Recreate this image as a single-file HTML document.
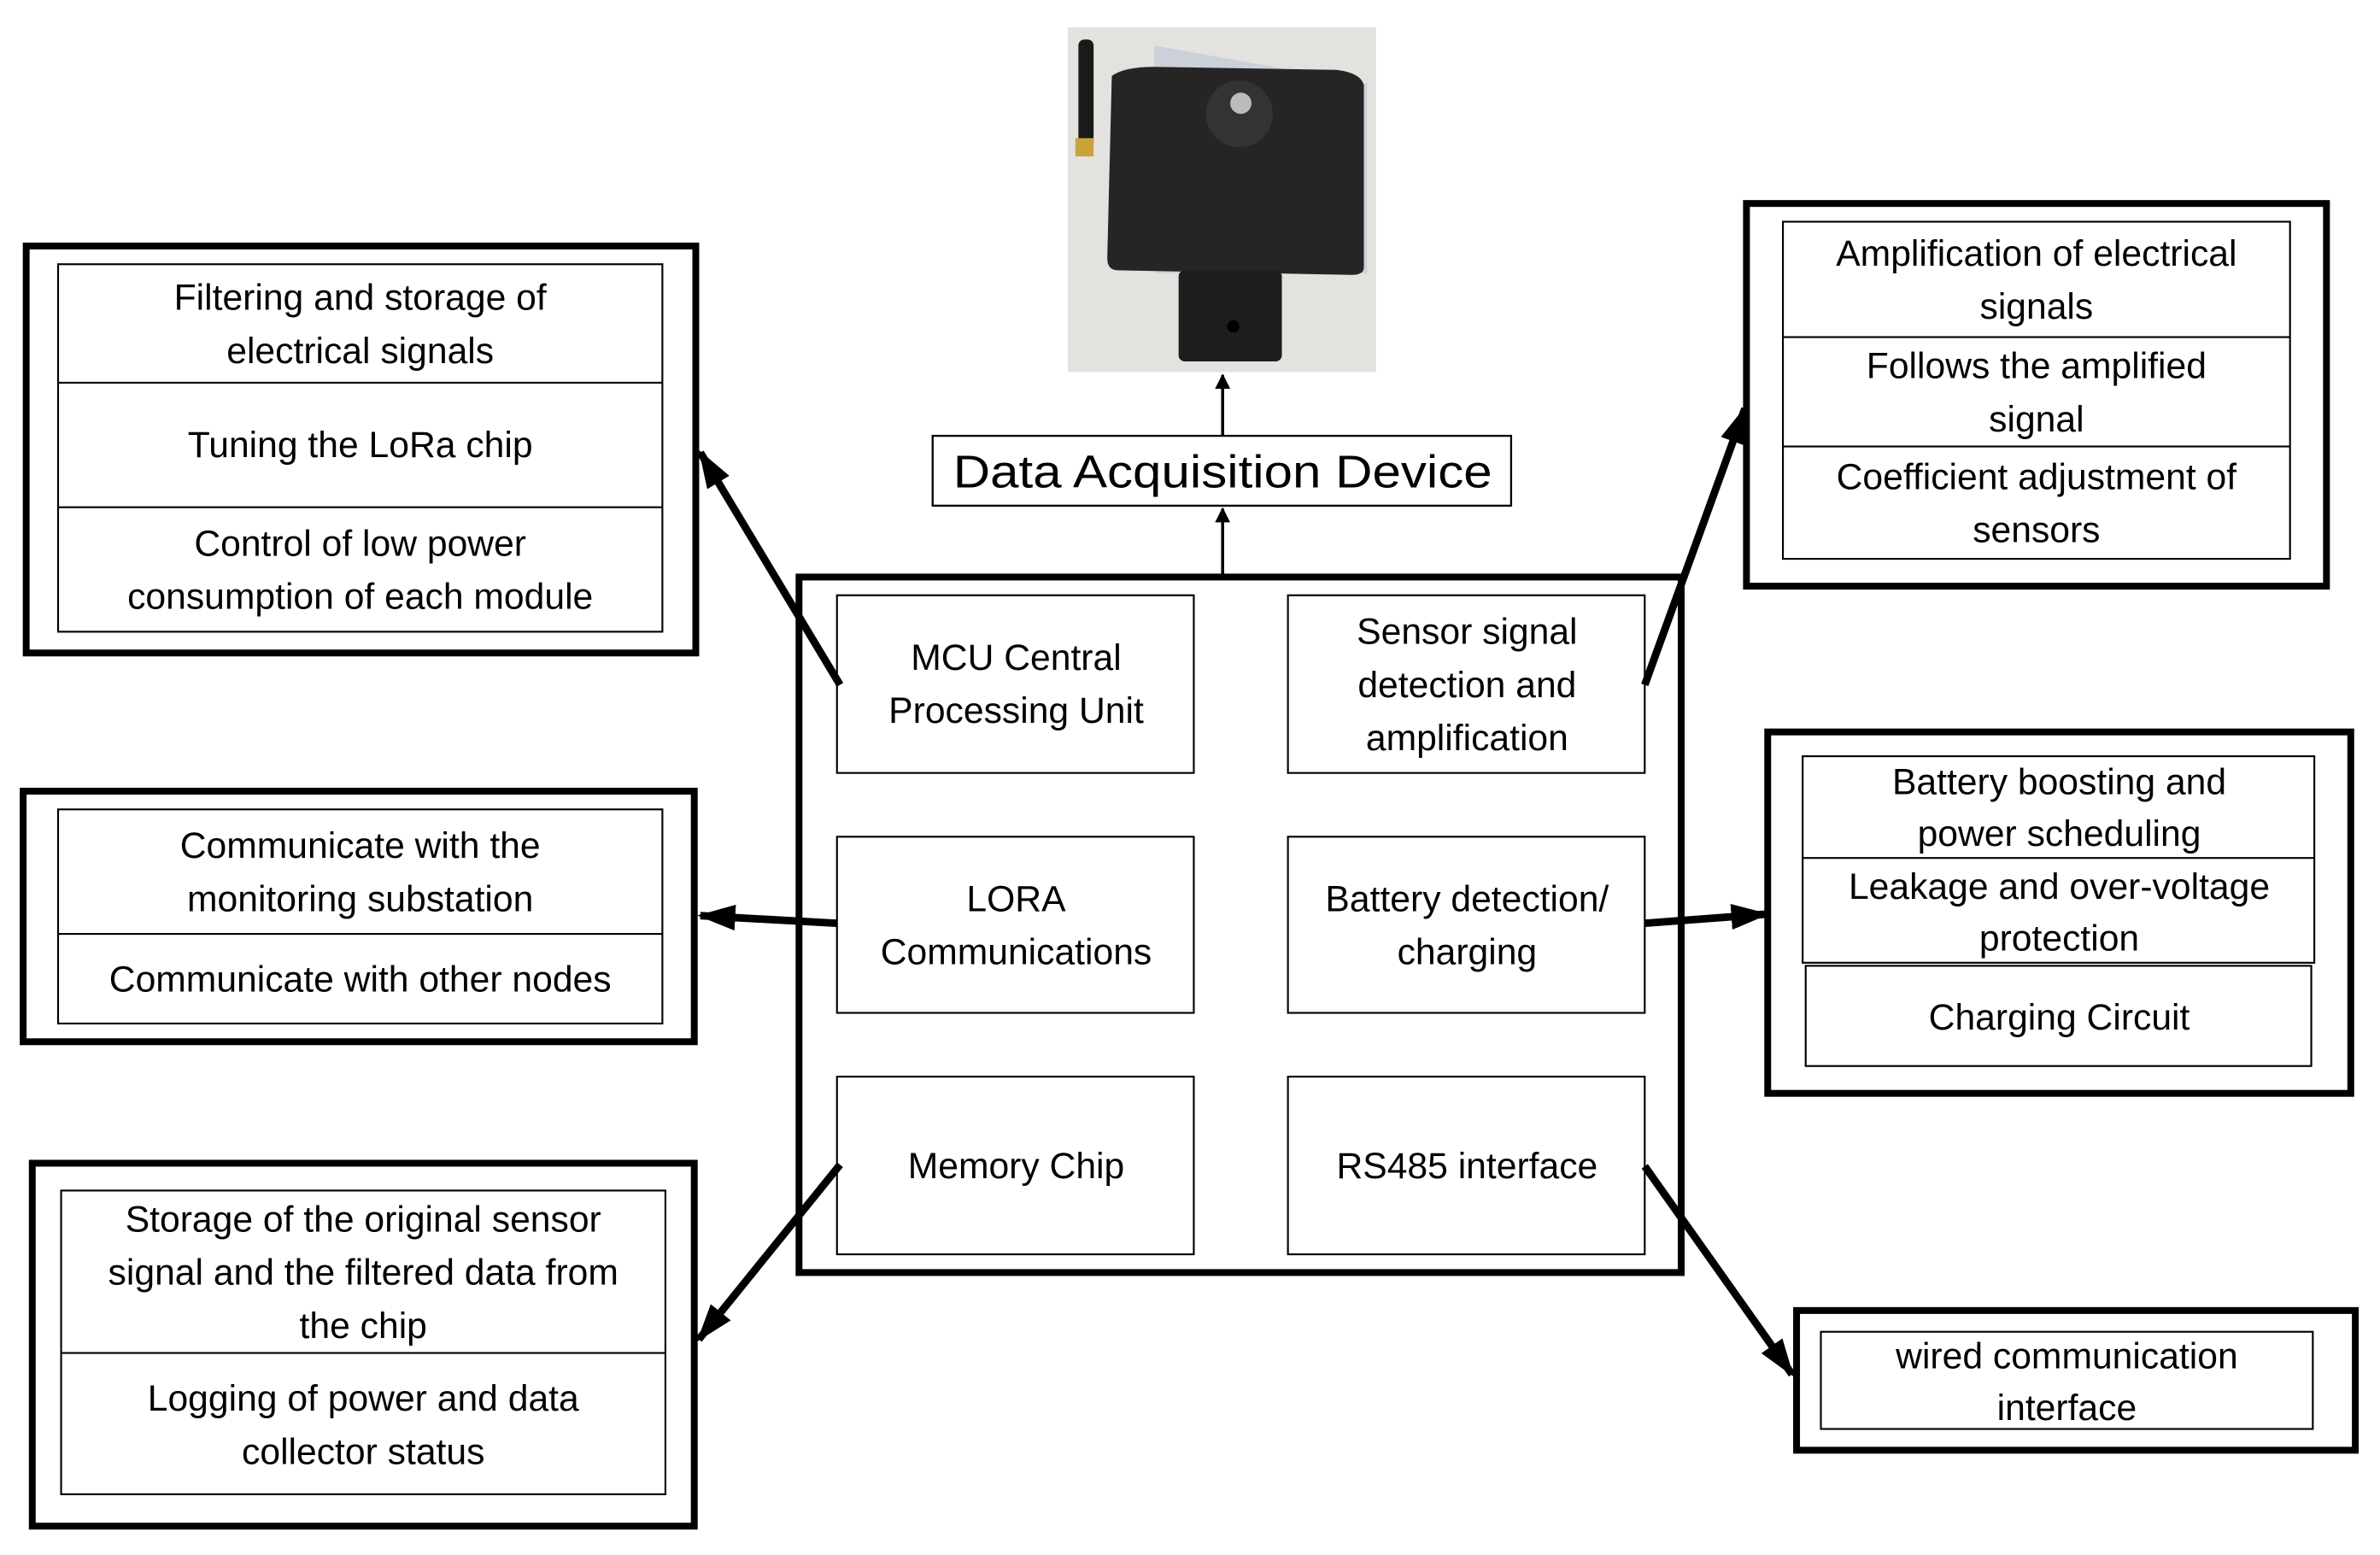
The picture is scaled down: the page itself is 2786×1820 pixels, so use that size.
<!DOCTYPE html>
<html><head><meta charset="utf-8"><style>
html,body{margin:0;padding:0;background:#fff;}
svg{display:block;}
text{font-family:"Liberation Sans",sans-serif;font-size:24px;fill:#000;text-anchor:middle;}
</style></head><body>
<svg width="2786" height="1820" viewBox="0 0 1567 1024" xmlns="http://www.w3.org/2000/svg">
<defs>
<marker id="a" markerWidth="5" markerHeight="3.4" refX="4.6" refY="1.7" orient="auto" markerUnits="strokeWidth"><path d="M0,0 L5,1.7 L0,3.4 z" fill="#000"/></marker>
<marker id="b" markerWidth="10" markerHeight="10" refX="9" refY="5" orient="auto" markerUnits="userSpaceOnUse"><path d="M0,0 L10,5 L0,10 z" fill="#000"/></marker>
</defs>
<rect width="1567" height="1024" fill="#fff"/>
<!-- photo -->
<rect x="703" y="18" width="203" height="227" fill="#e4e2df"/>
<path d="M760,30 L900,55 L900,180 L760,180 z" fill="#b9c6d4" opacity="0.6"/>
<rect x="710" y="26" width="10" height="72" rx="4" fill="#1a1a1a"/>
<rect x="708" y="91" width="12" height="12" fill="#c9a33a"/>
<path d="M732,50 Q740,44 760,44 L880,46 Q896,48 898,56 L898,176 Q898,181 890,181 L736,178 Q729,178 729,170 z" fill="#252525"/>
<rect x="776" y="178" width="68" height="60" rx="4" fill="#1e1e1e"/>
<circle cx="812" cy="215" r="4" fill="#000"/>
<circle cx="816" cy="75" r="22" fill="#333"/>
<circle cx="817" cy="68" r="7" fill="#bbb"/>
<!-- data acquisition device -->
<line x1="805" y1="290" x2="805" y2="247" stroke="#000" stroke-width="2" marker-end="url(#b)"/>
<rect x="614" y="287" width="381" height="46" fill="#fff" stroke="#000" stroke-width="1.3"/>
<text x="805" y="321" style="font-size:30px" textLength="355" lengthAdjust="spacingAndGlyphs">Data Acquisition Device</text>
<line x1="805" y1="380" x2="805" y2="335" stroke="#000" stroke-width="2" marker-end="url(#b)"/>
<!-- main box -->
<rect x="526" y="380" width="581" height="458" fill="none" stroke="#000" stroke-width="4.5"/>
<g fill="#fff" stroke="#000" stroke-width="1.2">
<rect x="551" y="392" width="235" height="117"/><rect x="848" y="392" width="235" height="117"/>
<rect x="551" y="551" width="235" height="116"/><rect x="848" y="551" width="235" height="116"/>
<rect x="551" y="709" width="235" height="117"/><rect x="848" y="709" width="235" height="117"/>
</g>
<text x="669" y="441">MCU Central</text><text x="669" y="476">Processing Unit</text>
<text x="966" y="424">Sensor signal</text><text x="966" y="459">detection and</text><text x="966" y="494">amplification</text>
<text x="669" y="600">LORA</text><text x="669" y="635">Communications</text>
<text x="966" y="600">Battery detection/</text><text x="966" y="635">charging</text>
<text x="669" y="776">Memory Chip</text><text x="966" y="776">RS485 interface</text>
<!-- left box 1 -->
<rect x="17" y="162" width="441" height="268" fill="none" stroke="#000" stroke-width="4.5"/>
<rect x="38" y="174" width="398" height="242" fill="none" stroke="#000" stroke-width="1.2"/>
<line x1="38" y1="252" x2="436" y2="252" stroke="#000" stroke-width="1.2"/>
<line x1="38" y1="334" x2="436" y2="334" stroke="#000" stroke-width="1.2"/>
<text x="237" y="204">Filtering and storage of</text><text x="237" y="239">electrical signals</text>
<text x="237" y="301">Tuning the LoRa chip</text>
<text x="237" y="366">Control of low power</text><text x="237" y="401">consumption of each module</text>
<!-- left box 2 -->
<rect x="15" y="521" width="442" height="165" fill="none" stroke="#000" stroke-width="4.5"/>
<rect x="38" y="533" width="398" height="141" fill="none" stroke="#000" stroke-width="1.2"/>
<line x1="38" y1="615" x2="436" y2="615" stroke="#000" stroke-width="1.2"/>
<text x="237" y="565">Communicate with the</text><text x="237" y="600">monitoring substation</text>
<text x="237" y="653">Communicate with other nodes</text>
<!-- left box 3 -->
<rect x="21" y="766" width="436" height="239" fill="none" stroke="#000" stroke-width="4.5"/>
<rect x="40" y="784" width="398" height="200" fill="none" stroke="#000" stroke-width="1.2"/>
<line x1="40" y1="891" x2="438" y2="891" stroke="#000" stroke-width="1.2"/>
<text x="239" y="811">Storage of the original sensor</text><text x="239" y="846">signal and the filtered data from</text><text x="239" y="881">the chip</text>
<text x="239" y="929">Logging of power and data</text><text x="239" y="964">collector status</text>
<!-- right box 1 -->
<rect x="1150" y="134" width="382" height="252" fill="none" stroke="#000" stroke-width="4.5"/>
<rect x="1174" y="146" width="334" height="222" fill="none" stroke="#000" stroke-width="1.2"/>
<line x1="1174" y1="222" x2="1508" y2="222" stroke="#000" stroke-width="1.2"/>
<line x1="1174" y1="294" x2="1508" y2="294" stroke="#000" stroke-width="1.2"/>
<text x="1341" y="175">Amplification of electrical</text><text x="1341" y="210">signals</text>
<text x="1341" y="249">Follows the amplified</text><text x="1341" y="284">signal</text>
<text x="1341" y="322">Coefficient adjustment of</text><text x="1341" y="357">sensors</text>
<!-- right box 2 -->
<rect x="1164" y="482" width="384" height="238" fill="none" stroke="#000" stroke-width="4.5"/>
<rect x="1187" y="498" width="337" height="136" fill="none" stroke="#000" stroke-width="1.2"/>
<line x1="1187" y1="565" x2="1524" y2="565" stroke="#000" stroke-width="1.2"/>
<rect x="1189" y="636" width="333" height="66" fill="none" stroke="#000" stroke-width="1.2"/>
<text x="1356" y="523">Battery boosting and</text><text x="1356" y="557">power scheduling</text>
<text x="1356" y="592">Leakage and over-voltage</text><text x="1356" y="626">protection</text>
<text x="1356" y="678">Charging Circuit</text>
<!-- right box 3 -->
<rect x="1183" y="863" width="368" height="92" fill="none" stroke="#000" stroke-width="4.5"/>
<rect x="1199" y="877" width="324" height="64" fill="none" stroke="#000" stroke-width="1.2"/>
<text x="1361" y="901">wired communication</text><text x="1361" y="935">interface</text>
<!-- thick arrows -->
<g stroke="#000" stroke-width="5" fill="none">
<line x1="553" y1="451" x2="461" y2="298" marker-end="url(#a)"/>
<line x1="551" y1="608" x2="461" y2="603" marker-end="url(#a)"/>
<line x1="553" y1="767" x2="460" y2="882" marker-end="url(#a)"/>
<line x1="1083" y1="451" x2="1149" y2="269" marker-end="url(#a)"/>
<line x1="1083" y1="608" x2="1163" y2="602" marker-end="url(#a)"/>
<line x1="1083" y1="768" x2="1180" y2="905" marker-end="url(#a)"/>
</g>
</svg>
</body></html>
